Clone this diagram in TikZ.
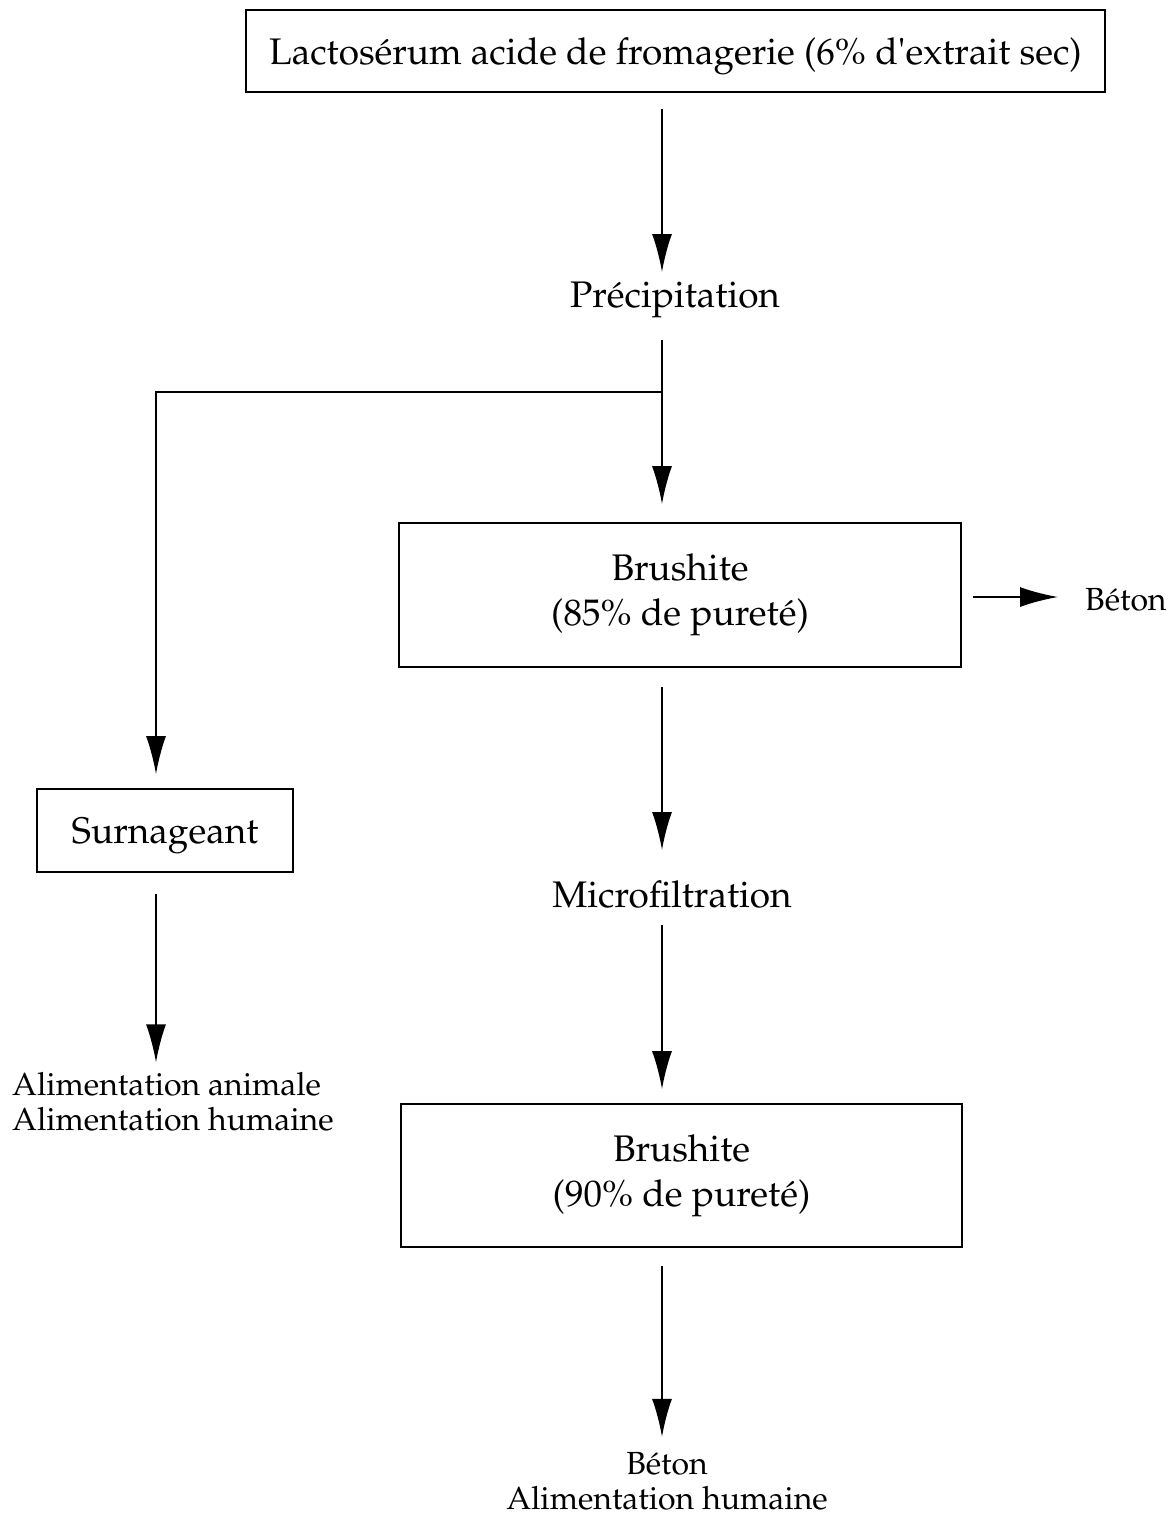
\documentclass[tikz,border=0pt]{standalone}
\usepackage[T1]{fontenc}
\usepackage{textcomp}
\usepackage{mathpazo}
\usetikzlibrary{arrows.meta,calc}
\tikzset{
  box/.style={draw, line width=1.7pt, inner sep=0pt, align=center},
  lbl/.style={inner sep=0pt, align=center, font=\fontsize{37}{45}\selectfont},
  small/.style={inner sep=0pt, font=\fontsize{32}{35}\selectfont},
  arr/.style={line width=1.7pt, -{Latex[length=38pt,width=20pt]}},
}
\begin{document}
\begin{tikzpicture}[x=1pt,y=-1pt]
\useasboundingbox (0,0) rectangle (1174,1516);
\coordinate (spine) at (662,0);
\coordinate (lsp) at (156,0);
\node[box, lbl, text depth=0pt, minimum width=859pt, minimum height=82pt] (top) at (675.5,51) {Lactos\'erum acide de fromagerie (6\% d\textquotesingle extrait sec)};
\node[lbl] (prec) at (675,300) {Pr\'ecipitation};
\node[box, lbl, minimum width=562pt, minimum height=144pt] (b1) at (680,595) {Brushite\\(85\% de puret\'e)};
\node[small, anchor=west] (beton1) at (1085,600) {B\'eton};
\node[box, lbl, text depth=0pt, minimum width=256pt, minimum height=83pt] (surn) at (165,830.5) {Surnageant};
\node[lbl] (micro) at (672,894) {Microfiltration};
\node[box, lbl, minimum width=561pt, minimum height=143pt] (b2) at (681.5,1175.5) {Brushite\\(90\% de puret\'e)};
\node[small, align=left, anchor=west] (alim) at (12,1102) {Alimentation animale\\Alimentation humaine};
\node[small, align=center] (out) at (667,1481) {B\'eton\\Alimentation humaine};
\coordinate (br) at (662,392);
\draw[arr] ($(top.south -| spine)+(0,16)$) -- ($(prec.center -| spine)+(0,-28)$);
\draw[arr] ($(prec.center -| spine)+(0,40)$) -- ($(b1.north -| spine)+(0,-18)$);
\draw[arr] (br) -- (br -| lsp) -- ($(surn.north -| lsp)+(0,-14)$);
\draw[arr] ($(b1.east)+(11,2)$) -- ($(beton1.west)+(-27,-3)$);
\draw[arr] ($(b1.south -| spine)+(0,19)$) -- ($(micro.center -| spine)+(0,-44)$);
\draw[arr] ($(micro.center -| spine)+(0,31)$) -- ($(b2.north -| spine)+(0,-14)$);
\draw[arr] ($(b2.south -| spine)+(0,18)$) -- ($(out.north -| spine)+(0,-15)$);
\draw[arr] ($(surn.south -| lsp)+(0,21)$) -- ($(alim.north -| lsp)+(0,-10)$);
\end{tikzpicture}
\end{document}
